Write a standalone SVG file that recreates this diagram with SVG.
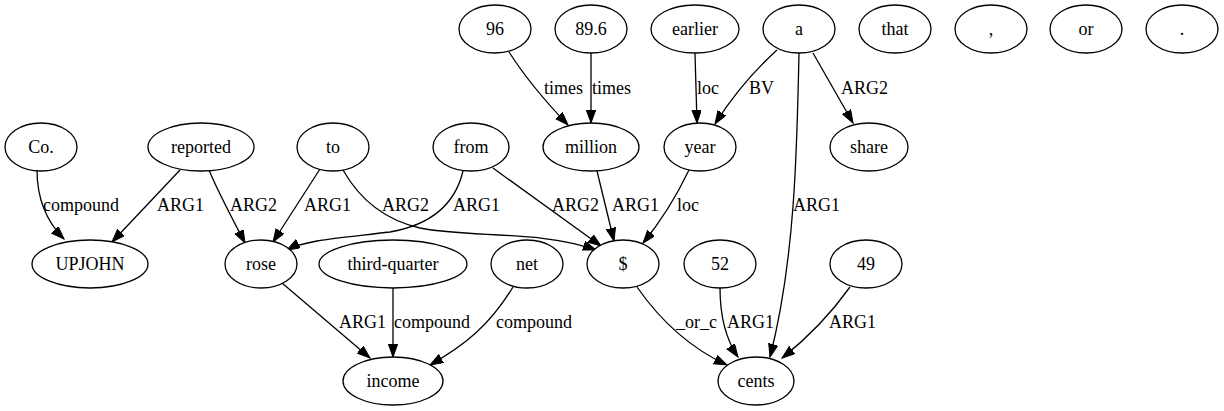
<svg xmlns="http://www.w3.org/2000/svg" width="1224" height="411" viewBox="0 0 1224 411" font-family="Liberation Serif, Times New Roman, serif" font-size="18">
<defs>
  <marker id="arrow" markerUnits="userSpaceOnUse" markerWidth="15" markerHeight="11" refX="13" refY="4.7" orient="auto">
    <path d="M0,0 L13,4.7 L0,9.4 Z" fill="#000000" stroke="#000000" stroke-width="1"/>
  </marker>
</defs>
<rect width="1224" height="411" fill="#ffffff"/>

<!-- connectors: arrows in the first group, their labels in the second -->
<g id="edges">
<g fill="none" stroke="#000000" stroke-width="1.3" marker-end="url(#arrow)">
  <path d="M37,170 C37,198 46,221 64,239"/>
  <path d="M180,170 L112,242"/>
  <path d="M209,170 C218,192 232,218 245,243"/>
  <path d="M320,169 L273,242"/>
  <path d="M343,170 C360,200 385,220 420,228 C470,238 540,230 596,250"/>
  <path d="M463,171 C455,205 430,225 390,232 C340,238 305,240 287,250"/>
  <path d="M493,168 C530,195 568,222 601,246"/>
  <path d="M597,171 L614,241"/>
  <path d="M689,170 C677,195 662,220 643,243"/>
  <path d="M509,52 C525,77 545,101 568,125"/>
  <path d="M591,53 L591,123"/>
  <path d="M695,53 L697,123"/>
  <path d="M777,50 C755,70 732,97 715,124"/>
  <path d="M799,53 C797,150 795,260 770,357"/>
  <path d="M813,53 L853,123"/>
  <path d="M282,283 L370,358"/>
  <path d="M393,288 L393,357"/>
  <path d="M513,287 C490,325 465,345 430,365"/>
  <path d="M637,287 C660,320 690,348 727,365"/>
  <path d="M720,288 C720,315 725,338 738,357"/>
  <path d="M850,287 C830,315 805,340 782,358"/>
</g>
<g fill="#000000">
  <text x="43" y="211">compound</text>
  <text x="157" y="211">ARG1</text>
  <text x="230" y="211">ARG2</text>
  <text x="304" y="211">ARG1</text>
  <text x="382" y="211">ARG2</text>
  <text x="453" y="211">ARG1</text>
  <text x="552" y="211">ARG2</text>
  <text x="612" y="211">ARG1</text>
  <text x="677" y="211">loc</text>
  <text x="544" y="94">times</text>
  <text x="592" y="94">times</text>
  <text x="697" y="94">loc</text>
  <text x="749" y="94">BV</text>
  <text x="793" y="211">ARG1</text>
  <text x="841" y="94">ARG2</text>
  <text x="339" y="328">ARG1</text>
  <text x="394" y="328">compound</text>
  <text x="496" y="328">compound</text>
  <text x="676" y="328">_or_c</text>
  <text x="727" y="328">ARG1</text>
  <text x="829" y="328">ARG1</text>
</g>
</g>

<!-- nodes -->
<g id="nodes" text-anchor="middle" fill="#000000">
<g id="n_96"><ellipse cx="495" cy="29" rx="36" ry="24" fill="#fff" stroke="#000" stroke-width="1.3"/><text x="495" y="35">96</text></g>
<g id="n_89_6"><ellipse cx="591" cy="29" rx="36" ry="24" fill="#fff" stroke="#000" stroke-width="1.3"/><text x="591" y="35">89.6</text></g>
<g id="n_earlier"><ellipse cx="695" cy="29" rx="44" ry="24" fill="#fff" stroke="#000" stroke-width="1.3"/><text x="695" y="35">earlier</text></g>
<g id="n_a"><ellipse cx="799" cy="29" rx="36" ry="24" fill="#fff" stroke="#000" stroke-width="1.3"/><text x="799" y="35">a</text></g>
<g id="n_that"><ellipse cx="895" cy="29" rx="36" ry="24" fill="#fff" stroke="#000" stroke-width="1.3"/><text x="895" y="35">that</text></g>
<g id="n_comma"><ellipse cx="991" cy="29" rx="36" ry="24" fill="#fff" stroke="#000" stroke-width="1.3"/><text x="991" y="35">,</text></g>
<g id="n_or"><ellipse cx="1086" cy="29" rx="36" ry="24" fill="#fff" stroke="#000" stroke-width="1.3"/><text x="1086" y="35">or</text></g>
<g id="n_period"><ellipse cx="1182" cy="29" rx="36" ry="24" fill="#fff" stroke="#000" stroke-width="1.3"/><text x="1182" y="35">.</text></g>

<g id="n_co"><ellipse cx="41" cy="147" rx="36" ry="24" fill="#fff" stroke="#000" stroke-width="1.3"/><text x="41" y="153">Co.</text></g>
<g id="n_reported"><ellipse cx="201" cy="147" rx="53" ry="24" fill="#fff" stroke="#000" stroke-width="1.3"/><text x="201" y="153">reported</text></g>
<g id="n_to"><ellipse cx="333" cy="147" rx="36" ry="24" fill="#fff" stroke="#000" stroke-width="1.3"/><text x="333" y="153">to</text></g>
<g id="n_from"><ellipse cx="471" cy="147" rx="38" ry="24" fill="#fff" stroke="#000" stroke-width="1.3"/><text x="471" y="153">from</text></g>
<g id="n_million"><ellipse cx="591" cy="147" rx="48" ry="24" fill="#fff" stroke="#000" stroke-width="1.3"/><text x="591" y="153">million</text></g>
<g id="n_year"><ellipse cx="700" cy="147" rx="36" ry="24" fill="#fff" stroke="#000" stroke-width="1.3"/><text x="700" y="153">year</text></g>
<g id="n_share"><ellipse cx="869" cy="147" rx="39" ry="24" fill="#fff" stroke="#000" stroke-width="1.3"/><text x="869" y="153">share</text></g>

<g id="n_upjohn"><ellipse cx="90" cy="264" rx="58" ry="24" fill="#fff" stroke="#000" stroke-width="1.3"/><text x="90" y="270">UPJOHN</text></g>
<g id="n_rose"><ellipse cx="261" cy="264" rx="36" ry="24" fill="#fff" stroke="#000" stroke-width="1.3"/><text x="261" y="270">rose</text></g>
<g id="n_third_quarter"><ellipse cx="393" cy="264" rx="74" ry="24" fill="#fff" stroke="#000" stroke-width="1.3"/><text x="393" y="270">third-quarter</text></g>
<g id="n_net"><ellipse cx="527" cy="264" rx="36" ry="24" fill="#fff" stroke="#000" stroke-width="1.3"/><text x="527" y="270">net</text></g>
<g id="n_dollar"><ellipse cx="623" cy="264" rx="36" ry="24" fill="#fff" stroke="#000" stroke-width="1.3"/><text x="623" y="270">$</text></g>
<g id="n_52"><ellipse cx="720" cy="264" rx="36" ry="24" fill="#fff" stroke="#000" stroke-width="1.3"/><text x="720" y="270">52</text></g>
<g id="n_49"><ellipse cx="866" cy="264" rx="36" ry="24" fill="#fff" stroke="#000" stroke-width="1.3"/><text x="866" y="270">49</text></g>

<g id="n_income"><ellipse cx="393" cy="381" rx="50" ry="24" fill="#fff" stroke="#000" stroke-width="1.3"/><text x="393" y="387">income</text></g>
<g id="n_cents"><ellipse cx="756" cy="381" rx="38" ry="24" fill="#fff" stroke="#000" stroke-width="1.3"/><text x="756" y="387">cents</text></g>
</g>
</svg>
